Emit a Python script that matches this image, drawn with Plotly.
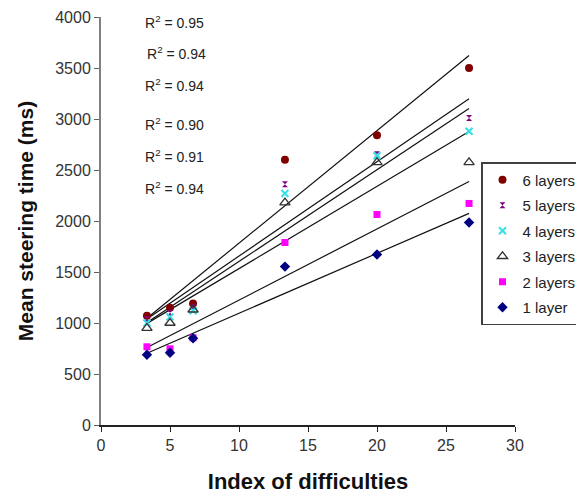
import numpy as np
import plotly.graph_objects as go

# ---- data ----
index_of_difficulty = [3.33, 5.0, 6.67, 13.33, 20.0, 26.67]
layers_6 = [1070, 1150, 1190, 2600, 2840, 3500]
layers_5 = [1040, 1100, 1160, 2360, 2655, 3010]
layers_4 = [1000, 1060, 1120, 2270, 2640, 2880]
layers_3 = [950, 1000, 1130, 2180, 2575, 2575]
layers_2 = [767, 747, 855, 1789, 2064, 2172]
layers_1 = [688, 708, 850, 1553, 1671, 1985]
series_names = ["6 layers", "5 layers", "4 layers", "3 layers", "2 layers", "1 layer"]
r2_labels = ["0.95", "0.94", "0.94", "0.90", "0.91", "0.94"]

series_values = [layers_6, layers_5, layers_4, layers_3, layers_2, layers_1]

marker_styles = [
    dict(symbol="circle", color="#800000", size=8),
    dict(symbol="hourglass", color="#800080", size=6),
    dict(symbol="x-thin-open", color="#33e0e8", size=7, line=dict(color="#33e0e8", width=2)),
    dict(symbol="triangle-up-open", color="#333333", size=9, line=dict(color="#333333", width=1.3)),
    dict(symbol="square", color="#ff00ff", size=7),
    dict(symbol="diamond", color="#000080", size=8),
]

FONT = "Arial, Liberation Sans, sans-serif"

fig = go.Figure()

x_arr = np.array(index_of_difficulty)
# trend lines (drawn first, behind markers)
for vals in series_values:
    slope, intercept = np.polyfit(x_arr, np.array(vals), 1)
    xs = [x_arr.min(), x_arr.max()]
    ys = [slope * xv + intercept for xv in xs]
    fig.add_trace(go.Scatter(x=xs, y=ys, mode="lines",
                             line=dict(color="#111111", width=1.2),
                             showlegend=False, hoverinfo="skip"))

for i, (name, vals, mk) in enumerate(zip(series_names, series_values, marker_styles)):
    fig.add_trace(go.Scatter(x=index_of_difficulty, y=vals, mode="markers",
                             name=name, marker=mk, legendgroup=f"g{i}"))

# R^2 annotations
r2_y_px = [22, 53, 85, 124, 156, 188]
r2_x_px = [143, 145, 143, 143, 143, 143]
plot_left, plot_right, plot_top, plot_bottom = 101, 515, 17, 425
for lab, ypx, xpx in zip(r2_labels, r2_y_px, r2_x_px):
    fig.add_annotation(
        x=(xpx - plot_left) / (plot_right - plot_left),
        y=(plot_bottom - ypx) / (plot_bottom - plot_top),
        xref="paper", yref="paper", xanchor="left", yanchor="middle",
        text=f"R<sup>2</sup> = {lab}", showarrow=False,
        font=dict(family=FONT, size=14, color="#222222"))

fig.update_layout(
    width=576, height=497,
    margin=dict(l=plot_left, r=576 - plot_right, t=plot_top, b=497 - plot_bottom, autoexpand=False),
    paper_bgcolor="white", plot_bgcolor="white",
    font=dict(family=FONT, size=16, color="#333333"),
    showlegend=True,
    legend=dict(
        x=(481 - plot_left) / (plot_right - plot_left),
        y=(plot_bottom - 162) / (plot_bottom - plot_top),
        xanchor="left", yanchor="top",
        bgcolor="white", bordercolor="#404040", borderwidth=1.5,
        font=dict(family=FONT, size=15, color="#222222"),
        tracegroupgap=3, traceorder="grouped",
    ),
    xaxis=dict(
        range=[0, 30], dtick=5, tick0=0,
        showgrid=False, zeroline=False,
        showline=True, linecolor="#222222", linewidth=1.5,
        ticks="outside", ticklen=5, tickcolor="#222222",
        tickfont=dict(family=FONT, size=16, color="#333333"),
        title=dict(text="<b>Index of difficulties</b>", standoff=21,
                   font=dict(family=FONT, size=22, color="#111111")),
    ),
    yaxis=dict(
        range=[0, 4000], dtick=500, tick0=0,
        showgrid=False, zeroline=False,
        showline=True, linecolor="#808080", linewidth=2,
        ticks="outside", ticklen=5, tickcolor="#606060",
        tickfont=dict(family=FONT, size=16, color="#333333"),
        title=dict(text="<b>Mean steering time (ms)</b>", standoff=16,
                   font=dict(family=FONT, size=21, color="#111111")),
    ),
)

fig.write_html("out.html")
